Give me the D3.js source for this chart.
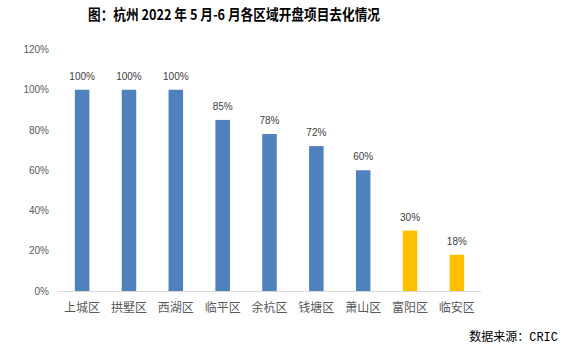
<!DOCTYPE html>
<html><head><meta charset="utf-8">
<script src="https://cdn.jsdelivr.net/npm/d3@7/dist/d3.min.js"></script>
<style>body{margin:0;background:#fff}svg{display:block}</style>
</head><body>
<script>
const categories = ["上城区","拱墅区","西湖区","临平区","余杭区","钱塘区","萧山区","富阳区","临安区"];
const values = [100,100,100,85,78,72,60,30,18];
const colorGroups = ["blue","blue","blue","blue","blue","blue","blue","yellow","yellow"];
const yTicks = [0,20,40,60,80,100,120];

const W=572,H=358;
const svg=d3.select("body").append("svg").attr("width",W).attr("height",H);
const font="'Noto Sans CJK SC','Microsoft YaHei',sans-serif";
const x=d3.scaleBand().domain(categories).range([58,481]).paddingInner(0.69).paddingOuter(0.36);
const y=d3.scaleLinear().domain([0,120]).range([291,49.5]);
const col={blue:"#4F81BD",yellow:"#FFC000"};

svg.append("text").attr("x",88).attr("y",19.5)
  .attr("font-family","'Noto Sans CJK SC',sans-serif").attr("font-weight","bold").attr("font-size",14.5)
  .attr("textLength",292).attr("lengthAdjust","spacingAndGlyphs")
  .attr("fill","#000").text("图：杭州 2022 年 5 月-6 月各区域开盘项目去化情况");

svg.selectAll(".yt").data(yTicks).enter().append("text")
  .attr("x",49).attr("y",d=>y(d)+3.5).attr("text-anchor","end")
  .attr("font-family","'Liberation Sans',Arial,sans-serif").attr("font-size",10).attr("fill","#595959")
  .text(d=>d+"%");

svg.selectAll(".bar").data(categories).enter().append("rect")
  .attr("x",d=>x(d)).attr("width",x.bandwidth())
  .attr("y",(d,i)=>y(values[i])).attr("height",(d,i)=>y(0)-y(values[i]))
  .attr("fill",(d,i)=>col[colorGroups[i]]);

svg.append("line").attr("x1",58).attr("x2",481).attr("y1",291.5).attr("y2",291.5)
  .attr("stroke","#d9d9d9").attr("stroke-width",1);

svg.selectAll(".lbl").data(categories).enter().append("text")
  .attr("x",d=>x(d)+x.bandwidth()/2).attr("y",(d,i)=>y(values[i])-10)
  .attr("text-anchor","middle").attr("font-family","'Liberation Sans',Arial,sans-serif")
  .attr("font-size",10).attr("fill","#404040").text((d,i)=>values[i]+"%");

svg.selectAll(".xl").data(categories).enter().append("text")
  .attr("x",d=>x(d)+x.bandwidth()/2).attr("y",312)
  .attr("text-anchor","middle").attr("font-family",font)
  .attr("font-size",12).attr("fill","#595959").text(d=>d);

const src=svg.append("text").attr("x",558).attr("y",341).attr("text-anchor","end")
  .attr("font-family",font).attr("font-size",12).attr("fill","#000");
src.append("tspan").text("数据来源：");
src.append("tspan").attr("font-family","'Liberation Mono',monospace").text("CRIC");
</script>
</body></html>
